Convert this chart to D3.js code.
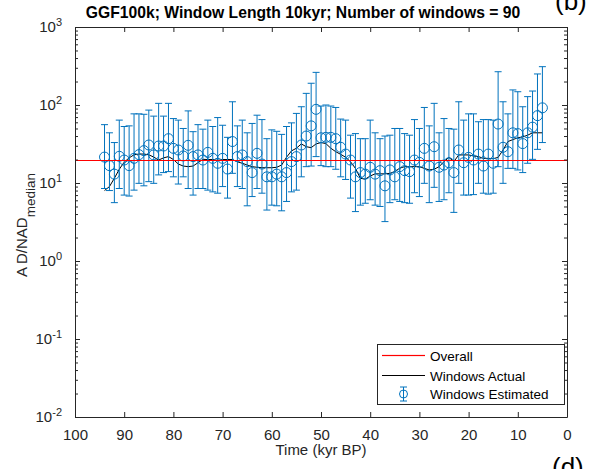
<!DOCTYPE html>
<html>
<head>
<meta charset="utf-8">
<script src="https://cdn.jsdelivr.net/npm/d3@7"></script>
<style>
  body { margin: 0; background: #fff; }
  svg { display: block; }
  text { font-family: "Liberation Sans", Arial, Helvetica, sans-serif; }
</style>
</head>
<body>
<svg id="chart" width="594" height="469"></svg>
<script>
// Window centres (kyr BP), one per 10-kyr window
const times = [94, 93, 92, 91, 90, 89, 88, 87, 86, 85,
               84, 83, 82, 81, 80, 79, 78, 77, 76, 75,
               74, 73, 72, 71, 70, 69, 68, 67, 66, 65,
               64, 63, 62, 61, 60, 59, 58, 57, 56, 55,
               54, 53, 52, 51, 50, 49, 48, 47, 46, 45,
               44, 43, 42, 41, 40, 39, 38, 37, 36, 35,
               34, 33, 32, 31, 30, 29, 28, 27, 26, 25,
               24, 23, 22, 21, 20, 19, 18, 17, 16, 15,
               14, 13, 12, 11, 10, 9, 8, 7, 6, 5];

// Estimated AD/NAD ratio per window (circles)
const estimated = [21.5, 16.7, 13.0, 22, 19.7, 16.7, 20.7, 23.1, 26, 30.7,
                   22.9, 29.8, 29.8, 37, 27.8, 26.5, 22.2, 30.4, 21.8, 22.9,
                   19.7, 24.7, 20.7, 17.9, 20.7, 15.1, 34, 21.8, 22.9, 18.8,
                   13.6, 24, 17.5, 12.0, 12.0, 13.0, 12.0, 13.6, 18.8, 21.8,
                   30.7, 40, 54, 88, 38, 38.5, 38.5, 37, 28.7, 23.5,
                   19.7, 12.0, 13.6, 13.0, 15.9, 13.0, 14.4, 9.2, 14.7, 12.0,
                   16.2, 14.4, 14.0, 19.7, 18.4, 27.8, 16.5, 29.2, 15.9, 17.0,
                   18.2, 13.6, 26.5, 18.2, 21.3, 19.7, 23.5, 16.5, 23.5, 17.9,
                   57, 28.7, 25.2, 44, 43, 32, 44, 52, 73, 92];

// Upper end of each error bar
const upperBound = [56, 44, 33, 64, 53, 54, 77, 77, 76, 86,
                    72, 105, 72, 105, 67, 64, 50, 84, 45.5, 56,
                    49, 64, 53, 69, 55, 38.5, 110, 54, 64, 44,
                    58, 74, 65, 37, 48, 46, 42, 53, 59, 78,
                    95, 141, 190, 262, 97, 100, 97, 93, 66, 64,
                    41, 43, 37, 37, 64, 44, 37, 40, 41, 50,
                    50, 43, 41, 65, 50, 93, 54, 105, 44, 67,
                    50, 49, 110, 64, 77, 77, 61, 65, 65, 64,
                    267, 110, 77, 156, 148, 95, 128, 151, 250, 310];

// Lower end of each error bar
const lowerBound = [8.5, 8.0, 5.6, 8.5, 7.0, 6.8, 8.1, 9.9, 9.2, 10.4,
                    9.9, 12.7, 13.6, 14.0, 12.0, 9.7, 12.0, 8.5, 7.0, 8.5,
                    8.5, 8.1, 7.7, 7.4, 9.0, 6.4, 13.3, 9.0, 8.5, 5.1,
                    6.7, 8.5, 7.4, 4.5, 5.2, 5.1, 4.4, 5.8, 7.7, 8.1,
                    12.0, 16.2, 16.5, 21.8, 16.7, 16.2, 16.2, 15.0, 12.0, 11.1,
                    6.4, 4.3, 5.2, 5.5, 6.1, 5.2, 5.0, 3.2, 5.6, 6.1,
                    5.8, 5.6, 5.5, 7.5, 6.7, 9.9, 5.6, 8.8, 5.8, 6.1,
                    7.5, 4.2, 9.9, 7.0, 7.0, 7.1, 9.9, 7.4, 7.2, 7.4,
                    16.2, 9.9, 15.4, 15.4, 14.7, 13.6, 17.9, 20.1, 27.0, 33];

// Actual AD/NAD ratio per window (black line)
const actual = [8.0, 9.0, 11.5, 15, 18.5, 21, 23, 23.5, 23.5, 23,
                21.5, 19.7, 21, 21.8, 20, 17.5, 16.5, 16.2, 16.5, 18.2,
                20.1, 20, 20, 19.5, 20, 20, 20, 18.7, 17.9, 17,
                16.2, 15.9, 15.7, 15.7, 15.7, 15.9, 17, 21.4, 25.8, 27.9,
                31.7, 29.2, 28.4, 31.7, 33, 32, 27.9, 25.2, 23.3, 21.4,
                18.7, 15.4, 11.5, 11.2, 12.3, 13.1, 13.1, 13.1, 13.3, 14.0,
                15.5, 16.2, 16.2, 16.2, 16.2, 15.4, 14.7, 15.0, 16.2, 18.8,
                21.3, 18.8, 22.9, 22.9, 22.9, 22.2, 21.8, 20.7, 20.7, 20.5,
                21.3, 26.5, 34, 36, 38, 39, 41, 44, 44, 44];

// Ratio over the whole record (red line)
const overall = 20;

const xTicks = [100, 90, 80, 70, 60, 50, 40, 30, 20, 10, 0];
const yExponents = [-2, -1, 0, 1, 2, 3];
const legendLabels = ["Overall", "Windows Actual", "Windows Estimated"];
const titleText = "GGF100k; Window Length 10kyr; Number of windows = 90";
const xLabel = "Time (kyr BP)";
const yLabelMain = ["A", "D/NAD"];
const yLabelSub = "median";

const blue = "#0072BD";
const red = "#ff0000";
const axisColor = "#262626";

const svg = d3.select("#chart");
const plot = { left: 75, right: 567, top: 27, bottom: 417 };

const x = d3.scaleLinear().domain([100, 0]).range([plot.left, plot.right]);
const y = d3.scaleLog().domain([1e-2, 1e3]).range([plot.bottom, plot.top]);

const majors = yExponents.map(e => Math.pow(10, e));
const minors = y.ticks().filter(v => !majors.some(m => Math.abs(m - v) / m < 1e-9));

function styleAxis(sel) {
  sel.selectAll("path.domain").attr("stroke", axisColor).attr("stroke-width", 1);
  sel.selectAll(".tick line").attr("stroke", axisColor).attr("stroke-width", 1);
  sel.selectAll(".tick text").attr("fill", axisColor)
    .attr("font-size", 15)
    .attr("font-family", "'Liberation Sans', Arial, sans-serif");
}

// white plot area
svg.append("rect").attr("x", plot.left).attr("y", plot.top)
  .attr("width", plot.right - plot.left).attr("height", plot.bottom - plot.top)
  .attr("fill", "#fff");

// ---- data layers ----
const dataG = svg.append("g");

const rows = times.map((t, i) => ({
  t, est: estimated[i], hi: upperBound[i], lo: lowerBound[i], act: actual[i]
}));

// actual windows
dataG.append("path")
  .datum(rows)
  .attr("fill", "none").attr("stroke", "#000").attr("stroke-width", 1)
  .attr("d", d3.line().x(d => x(d.t)).y(d => y(d.act)));

// estimated windows with error bars
const capHalf = 3.5;
const eb = dataG.append("g").attr("stroke", blue).attr("stroke-width", 1).attr("fill", "none")
  .selectAll("g").data(rows).join("g");
eb.append("line").attr("x1", d => x(d.t)).attr("x2", d => x(d.t))
  .attr("y1", d => y(d.lo)).attr("y2", d => y(d.hi));
eb.append("line").attr("x1", d => x(d.t) - capHalf).attr("x2", d => x(d.t) + capHalf)
  .attr("y1", d => y(d.hi)).attr("y2", d => y(d.hi));
eb.append("line").attr("x1", d => x(d.t) - capHalf).attr("x2", d => x(d.t) + capHalf)
  .attr("y1", d => y(d.lo)).attr("y2", d => y(d.lo));
eb.append("circle").attr("cx", d => x(d.t)).attr("cy", d => y(d.est)).attr("r", 5);

// overall ratio, snapped to the pixel grid so it stays a clean red line
const yOverall = Math.round(y(overall)) + 0.5;
dataG.append("line")
  .attr("x1", plot.left).attr("x2", plot.right)
  .attr("y1", yOverall).attr("y2", yOverall)
  .style("stroke", red).style("stroke-width", 1.2);

// ---- axes ----
const bottomAxis = svg.append("g").attr("transform", `translate(0,${plot.bottom})`)
  .call(d3.axisBottom(x).tickValues(xTicks).tickSizeInner(-5).tickSizeOuter(0)
    .tickPadding(12).tickFormat(d3.format("d")));
styleAxis(bottomAxis);

const topAxis = svg.append("g").attr("transform", `translate(0,${plot.top})`)
  .call(d3.axisTop(x).tickValues(xTicks).tickSizeInner(-5).tickSizeOuter(0).tickFormat(() => ""));
styleAxis(topAxis);

const leftAxis = svg.append("g").attr("transform", `translate(${plot.left},0)`)
  .call(d3.axisLeft(y).tickValues(majors).tickSizeInner(-5).tickSizeOuter(0)
    .tickPadding(13).tickFormat(() => ""));
styleAxis(leftAxis);
leftAxis.selectAll(".tick text").each(function (d) {
  const e = Math.round(Math.log10(d));
  const t = d3.select(this);
  t.append("tspan").text("10");
  t.append("tspan").attr("dy", -6.5).attr("font-size", 11).text(e);
});

const leftMinor = svg.append("g").attr("transform", `translate(${plot.left},0)`)
  .call(d3.axisLeft(y).tickValues(minors).tickSizeInner(-3).tickSizeOuter(0).tickFormat(() => ""));
leftMinor.select("path.domain").remove();
styleAxis(leftMinor);

const rightAxis = svg.append("g").attr("transform", `translate(${plot.right},0)`)
  .call(d3.axisRight(y).tickValues(majors).tickSizeInner(-5).tickSizeOuter(0).tickFormat(() => ""));
styleAxis(rightAxis);
const rightMinor = svg.append("g").attr("transform", `translate(${plot.right},0)`)
  .call(d3.axisRight(y).tickValues(minors).tickSizeInner(-3).tickSizeOuter(0).tickFormat(() => ""));
rightMinor.select("path.domain").remove();
styleAxis(rightMinor);

// ---- labels ----
svg.append("text")
  .attr("x", 303).attr("y", 18)
  .attr("text-anchor", "middle").attr("font-size", 15.7).attr("font-weight", "bold")
  .attr("fill", "#000").text(titleText);

svg.append("text")
  .attr("x", (plot.left + plot.right) / 2).attr("y", 455)
  .attr("text-anchor", "middle").attr("font-size", 15).attr("fill", axisColor)
  .text(xLabel);

const yl = svg.append("text")
  .attr("transform", "translate(26.5,277) rotate(-90)")
  .attr("text-anchor", "start").attr("font-size", 15).attr("fill", axisColor);
yl.append("tspan").text(yLabelMain[0]);
yl.append("tspan").attr("dx", 3).text(yLabelMain[1]);
yl.append("tspan").attr("dy", 8).attr("font-size", 13.5).text(yLabelSub);

// panel letters of neighbouring panels
svg.append("text").attr("x", 555).attr("y", 10).attr("font-size", 26).attr("fill", "#000").text("(b)");
svg.append("text").attr("x", 552).attr("y", 476).attr("font-size", 26).attr("fill", "#000").text("(d)");

// ---- legend ----
const lg = svg.append("g");
lg.append("rect").attr("x", 377.5).attr("y", 344.5).attr("width", 187).attr("height", 60)
  .attr("fill", "#fff").attr("stroke", axisColor).attr("stroke-width", 1);

const rowY = [355.5, 375.5, 394];
const textY = [361, 380.5, 399];

lg.append("rect").attr("x", 382).attr("y", rowY[0] - 0.6).attr("width", 43).attr("height", 1.2)
  .style("fill", red).style("stroke", "none");
lg.append("line").attr("x1", 382).attr("x2", 425).attr("y1", rowY[1]).attr("y2", rowY[1])
  .style("stroke", "#000").style("stroke-width", 1);

const ic = lg.append("g").attr("stroke", blue).attr("stroke-width", 1).attr("fill", "none");
const icx = 403.5;
ic.append("line").attr("x1", icx).attr("x2", icx).attr("y1", rowY[2] - 7).attr("y2", rowY[2] + 7);
ic.append("line").attr("x1", icx - capHalf).attr("x2", icx + capHalf).attr("y1", rowY[2] - 7).attr("y2", rowY[2] - 7);
ic.append("line").attr("x1", icx - capHalf).attr("x2", icx + capHalf).attr("y1", rowY[2] + 7).attr("y2", rowY[2] + 7);
ic.append("circle").attr("cx", icx).attr("cy", rowY[2]).attr("r", 4);

lg.selectAll("text.lbl").data(legendLabels).join("text")
  .attr("class", "lbl")
  .attr("x", 430).attr("y", (d, i) => textY[i])
  .attr("font-size", 13.5).attr("fill", "#000")
  .text(d => d);
</script>
</body>
</html>
